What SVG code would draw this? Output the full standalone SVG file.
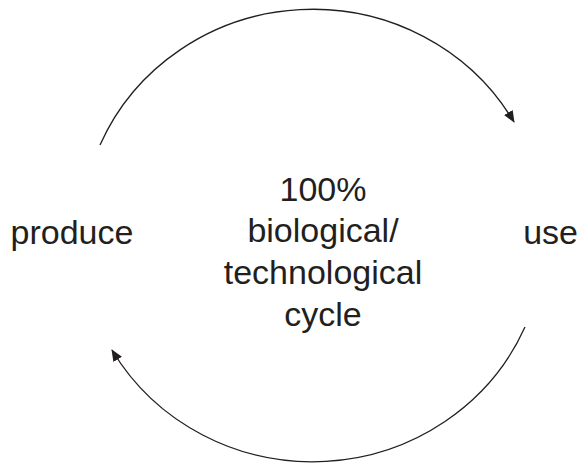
<svg xmlns="http://www.w3.org/2000/svg" width="584" height="465" viewBox="0 0 584 465">
<defs>
<style>
text{font-family:"Liberation Sans",Arial,sans-serif;font-size:34px;fill:#231f20}
.arc{fill:none;stroke:#231f20;stroke-width:1.3}
</style>
<marker id="ah" viewBox="0 0 12 10" refX="11" refY="5" markerWidth="12" markerHeight="10" markerUnits="userSpaceOnUse" orient="auto">
<path d="M0,0 L12,5 L0,10 Z" fill="#231f20"/>
</marker>
</defs>
<g id="connectors">
<path class="arc" d="M100,145 A232,225 0 0,1 514,122" marker-end="url(#ah)"/>
<path class="arc" d="M525,327 A232,225 0 0,1 112,350" marker-end="url(#ah)"/>
</g>
<g id="produce"><text x="10.5" y="243.5">produce</text></g>
<g id="use"><text x="578" y="243.5" text-anchor="end">use</text></g>
<g id="center">
<text x="323" y="201" text-anchor="middle">100%</text>
<text x="323" y="242" text-anchor="middle">biological/</text>
<text x="323" y="284" text-anchor="middle">technological</text>
<text x="323" y="326" text-anchor="middle">cycle</text>
</g>
</svg>
